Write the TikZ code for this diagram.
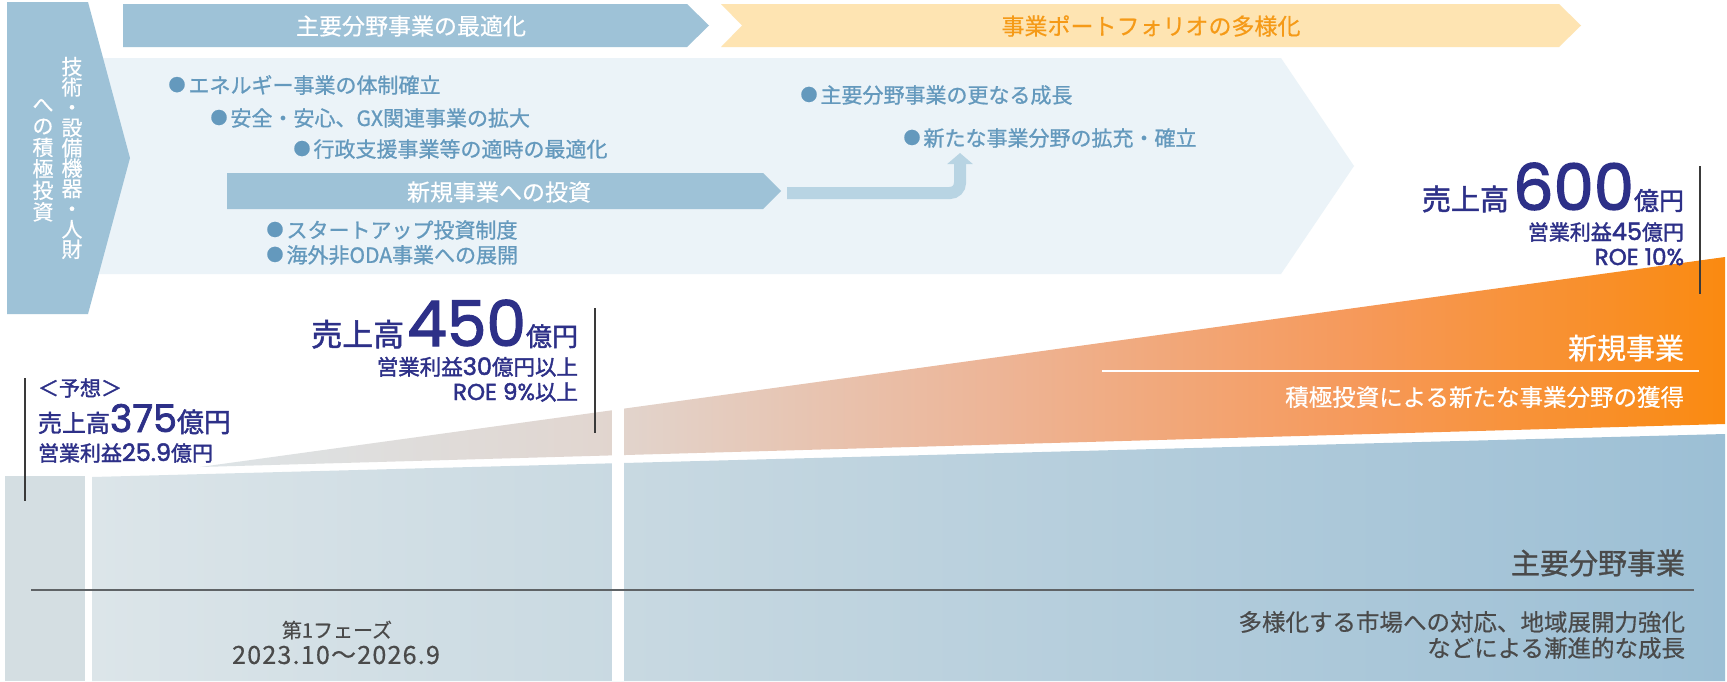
\documentclass[tikz,border=0pt]{standalone}
\usepackage{fontspec}
\setmainfont{Noto Sans CJK JP}[FakeBold=0.5]
\newfontfamily\numf{Poppins}[FakeBold=2]
\newfontfamily\navyj{Noto Sans CJK JP}[FakeBold=1.6]
\newfontfamily\medj{Noto Sans CJK JP}[FakeBold=1]
\usetikzlibrary{arrows.meta}
\newcommand\fsz[1]{\fontsize{#1}{#1}\selectfont}
\newcommand\bul{\raisebox{2pt}{\fsz{17}●}\hspace{3pt}}
\definecolor{bannerblue}{HTML}{9EC2D7}
\definecolor{bannerpeach}{HTML}{FEE4B2}
\definecolor{orangetxt}{HTML}{F59A17}
\definecolor{panelbg}{HTML}{EBF3F8}
\definecolor{paneltxt}{HTML}{6499BD}
\definecolor{connblue}{HTML}{B8D4E3}
\definecolor{navy}{HTML}{2D3088}
\definecolor{darkline}{HTML}{3A3A3A}
\definecolor{graytxt}{HTML}{4A4A4A}
\definecolor{sepline}{HTML}{5F6366}
\definecolor{leftblock}{HTML}{D4DEE2}
\definecolor{wA}{HTML}{DDE4E7}
\definecolor{wB}{HTML}{E1D6D0}
\definecolor{wC}{HTML}{EDB597}
\definecolor{wD}{HTML}{F6995A}
\definecolor{wE}{HTML}{FA8A10}
\definecolor{lA}{HTML}{DCE5E9}
\definecolor{lB}{HTML}{CADAE2}
\definecolor{lC}{HTML}{9CBFD5}
\pgfdeclarehorizontalshading{wedgeshade}{100bp}{color(0bp)=(wA); color(25bp)=(wA); color(38bp)=(wB); color(51bp)=(wC); color(63bp)=(wD); color(75bp)=(wE); color(100bp)=(wE)}
\pgfdeclarehorizontalshading{lowershade}{100bp}{color(0bp)=(lA); color(25bp)=(lA); color(40bp)=(lB); color(75bp)=(lC); color(100bp)=(lC)}
\begin{document}
\begin{tikzpicture}[x=1pt,y=-1pt,
  txt/.style={inner sep=0pt, outer sep=0pt},
  bullettxt/.style={txt, anchor=west, text=paneltxt, font=\medj\fsz{21}},
  navytxt/.style={txt, text=navy},
  whitetxt/.style={txt, text=white},
  vline/.style={draw=darkline, line width=1.5pt},
  conn/.style={draw=connblue, line width=12pt, rounded corners=10pt, -{Triangle[width=25pt,length=11pt]}}]
\fill[white] (0,0) rectangle (1727,681);
\path[use as bounding box] (0,0) rectangle (1727,681);
% light panel
\fill[panelbg] (95,58) -- (1281,58) -- (1354,166) -- (1281,274) -- (95,274) -- cycle;
% left vertical arrow
\fill[bannerblue] (7,2) -- (88,2) -- (130,158) -- (88,314) -- (7,314) -- cycle;
\node[whitetxt, align=center, font=\fsz{21}, execute at begin node={\setlength{\baselineskip}{20.3pt}}] (vt1) at (72,158) {技\\術\\・\\設\\備\\機\\器\\・\\人\\財};
\node[whitetxt, align=center, font=\fsz{21}, execute at begin node={\setlength{\baselineskip}{21.5pt}}] (vt2) at (43,160) {へ\\の\\積\\極\\投\\資};
% top banners
\fill[bannerblue] (123,4) -- (687,4) -- (709,25.5) -- (687,47) -- (123,47) -- cycle;
\fill[bannerpeach] (721,4) -- (1559,4) -- (1581,25.5) -- (1559,47) -- (721,47) -- (742,25.5) -- cycle;
\node[whitetxt, font=\fsz{23}] (b1) at (411,26) {主要分野事業の最適化};
\node[txt, text=orangetxt, font=\fsz{23}] (b2) at (1151,26) {事業ポートフォリオの多様化};
% panel bullets
\node[bullettxt] (p1) at (168.5,85) {\bul エネルギー事業の体制確立};
\node[bullettxt] (p2) at (210.5,118) {\bul 安全・安心、GX関連事業の拡大};
\node[bullettxt] (p3) at (293.5,149) {\bul 行政支援事業等の適時の最適化};
\node[bullettxt] (p4) at (266.5,230) {\bul スタートアップ投資制度};
\node[bullettxt] (p5) at (266.5,255) {\bul 海外非ODA事業への展開};
\node[bullettxt] (p6) at (800.5,95) {\bul 主要分野事業の更なる成長};
\node[bullettxt] (p7) at (903.5,138) {\bul 新たな事業分野の拡充・確立};
% investment band
\fill[bannerblue] (227,173) -- (763,173) -- (781,191) -- (763,209) -- (227,209) -- cycle;
\node[whitetxt, font=\fsz{23}] (inv) at (499,192) {新規事業への投資};
\coordinate (cs) at (787,193);
\coordinate (ce) at (960,153);
\draw[conn] (cs) -| (ce);
% lower chart
\shade[shading=wedgeshade] (200,467) -- (1725,257) -- (1725,424) -- cycle;
\fill[leftblock] (5,476) rectangle (85,681);
\shade[shading=lowershade] (92,477) -- (1725,434) -- (1725,681) -- (92,681) -- cycle;
\fill[white] (612,400) rectangle (624,681);
% lines
\draw[vline] (25,378) -- (25,501);
\draw[vline] (595,308) -- (595,433);
\draw[vline] (1700,166) -- (1700,294);
\draw[white, line width=1.5pt] (1102,371) -- (1699,371);
\draw[sepline, line width=2pt] (31,590) -- (1694,590);
% navy figures
\node[navytxt, anchor=base west] (f1) at (38,396) {\navyj\fsz{21}＜予想＞};
\node[navytxt, anchor=base west] (f2) at (38,432) {\navyj\fsz{24}売上高{\numf\fsz{38}375}\fsz{27}億円};
\node[navytxt, anchor=base west] (f3) at (38,461) {\navyj\fsz{21}営業利益{\numf\fsz{24}25.9}億円};
\node[navytxt, anchor=base east] (g1) at (578,346) {\navyj\fsz{31}売上高\hspace{3pt}{\numf\fsz{63}450}\fsz{26}億円};
\node[navytxt, anchor=base east] (g2) at (578,375) {\navyj\fsz{21.5}営業利益{\numf\fsz{24}30}億円以上};
\node[navytxt, anchor=base east] (g3) at (578,400) {{\numf\fsz{23}ROE 9\%}{\navyj\fsz{21.5}以上}};
\node[navytxt, anchor=base east] (h1) at (1684,210) {\navyj\fsz{29}売上高\hspace{4pt}{\numf\fsz{64}600}\fsz{25}億円};
\node[navytxt, anchor=base east] (h2) at (1684,240) {\navyj\fsz{21}営業利益{\numf\fsz{24}45}億円};
\node[navytxt, anchor=base east] (h3) at (1684,265) {\numf\fsz{23}ROE 10\%};
% lower labels
\node[whitetxt, anchor=base east, font=\fsz{29}] (n1) at (1684,359) {新規事業};
\node[whitetxt, anchor=base east, font=\fsz{23.5}] (n2) at (1684,406) {積極投資による新たな事業分野の獲得};
\node[txt, text=graytxt, anchor=base east, font=\medj\fsz{29}] (m1) at (1685,574) {主要分野事業};
\node[txt, text=graytxt, anchor=east, align=right, font=\fsz{23.5}, execute at begin node={\setlength{\baselineskip}{26pt}}] (m2) at (1685,635) {多様化する市場への対応、地域展開力強化\\などによる漸進的な成長};
\node[txt, text=graytxt, align=center, font=\fsz{20}] (ph1) at (337,630) {第1フェーズ};
\node[txt, text=graytxt, align=center, font=\fsz{25}\addfontfeatures{LetterSpace=5}] (ph2) at (336,655) {2023.10～2026.9};
\end{tikzpicture}
\end{document}
